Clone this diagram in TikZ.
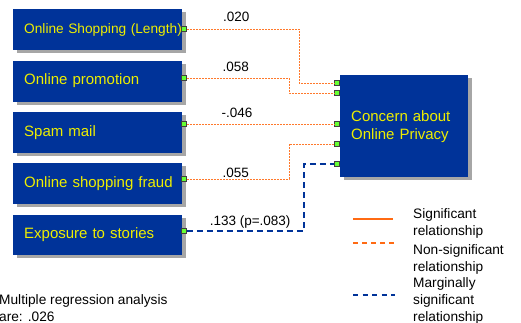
\documentclass[tikz,border=0pt]{standalone}
\usepackage{fontspec}
\setmainfont{Liberation Sans}
\usetikzlibrary{positioning}
\usetikzlibrary{shadows}
\definecolor{boxblue}{HTML}{003399}
\definecolor{boxtext}{HTML}{EEEE00}
\definecolor{relorange}{HTML}{FF6A13}
\definecolor{portgreen}{HTML}{66FF33}
\begin{document}
\begin{tikzpicture}[line join=miter,x=1pt,y=-1pt,
  factor/.style={fill=boxblue,text=boxtext,minimum width=169pt,minimum height=41pt,
    inner xsep=11pt,inner ysep=0pt,text width=147pt,align=left,
    font=\fontsize{15}{18}\selectfont,
    drop shadow={shadow xshift=4pt,shadow yshift=-3pt,fill=black!35,opacity=1}},
  outcome/.style={factor,minimum width=128pt,minimum height=102pt,text width=106pt},
  port/.style={draw=black!75,fill=portgreen,minimum size=5pt,inner sep=0pt,line width=.6pt},
  nonsig/.style={relorange!90!white,line width=1pt,dash pattern=on 2pt off 1pt},
  marginal/.style={boxblue,line width=1.6pt,dash pattern=on 6pt off 4pt},
  lbl/.style={inner sep=0pt,text=black,font=\fontsize{13.5}{16}\selectfont},
  legend/.style={inner sep=0pt,align=left,anchor=west,font=\fontsize{13.7}{17}\selectfont}]
\useasboundingbox (0,0) rectangle (521,322);
% boxes
\node[factor,anchor=north west,font=\fontsize{13.7}{16}\selectfont] (len) at (13,9) {\mbox{Online Shopping (Length)}};
\node[factor,below=10pt of len] (promo) {Online promotion};
\node[factor,below=10pt of promo] (spam) {Spam mail};
\node[factor,below=10pt of spam] (fraud) {\mbox{Online shopping fraud}};
\node[factor,below=10pt of fraud,minimum height=40pt] (story) {Exposure to stories};
\node[outcome,anchor=north west] (privacy) at (340,75) {Concern about\\Online Privacy};
% ports
\foreach \y [count=\i] in {29,78,124,179,231}
\node[port] (s\i) at (184,\y) {};
\foreach \y [count=\i] in {83,93,124,144,164}
\node[port] (t\i) at (337,\y) {};
\coordinate (k1) at (299,0);
\coordinate (k2) at (289,0);
\coordinate (k5) at (304,0);
% paths
\draw[nonsig] (s1) -| node[lbl,pos=.22,above=7pt] (l1) {.020} (k1 |- t1) -- (t1);
\draw[nonsig] (s2) -| node[lbl,pos=.24,above=6pt] (l2) {.058} (k2 |- t2) -- (t2);
\draw[nonsig] (s3) -- node[lbl,pos=.34,above=6pt] (l3) {-.046} (t3);
\draw[nonsig] (s4) -| node[lbl,pos=.24,above=1pt] (l4) {.055} (k2 |- t4) -- (t4);
\draw[marginal] (s5) -| node[lbl,pos=.27,above=2pt] (l5) {.133 (p=.083)} (k5 |- t5) -- (t5);
% legend
\coordinate (g1) at (353,219);
\coordinate (g2) at (353,243);
\coordinate (g3) at (353,295);
\draw[relorange,line width=1.5pt] (g1) -- ++(40,0);
\draw[relorange,line width=1.5pt,dash pattern=on 5pt off 4pt] (g2) -- ++(42,0);
\draw[boxblue,line width=1.5pt,dash pattern=on 5pt off 4.5pt] (g3) -- ++(42,0);
\node[legend] (gt1) at (413,223.5) {Significant\\relationship};
\node[legend] (gt2) at (413,259) {Non-significant\\relationship};
\node[legend] (gt3) at (413,300.5) {Marginally\\significant\\relationship};
\node[legend] (rsq) at (-1,308.5) {Multiple regression analysis\\are: .026};
\end{tikzpicture}
\end{document}
